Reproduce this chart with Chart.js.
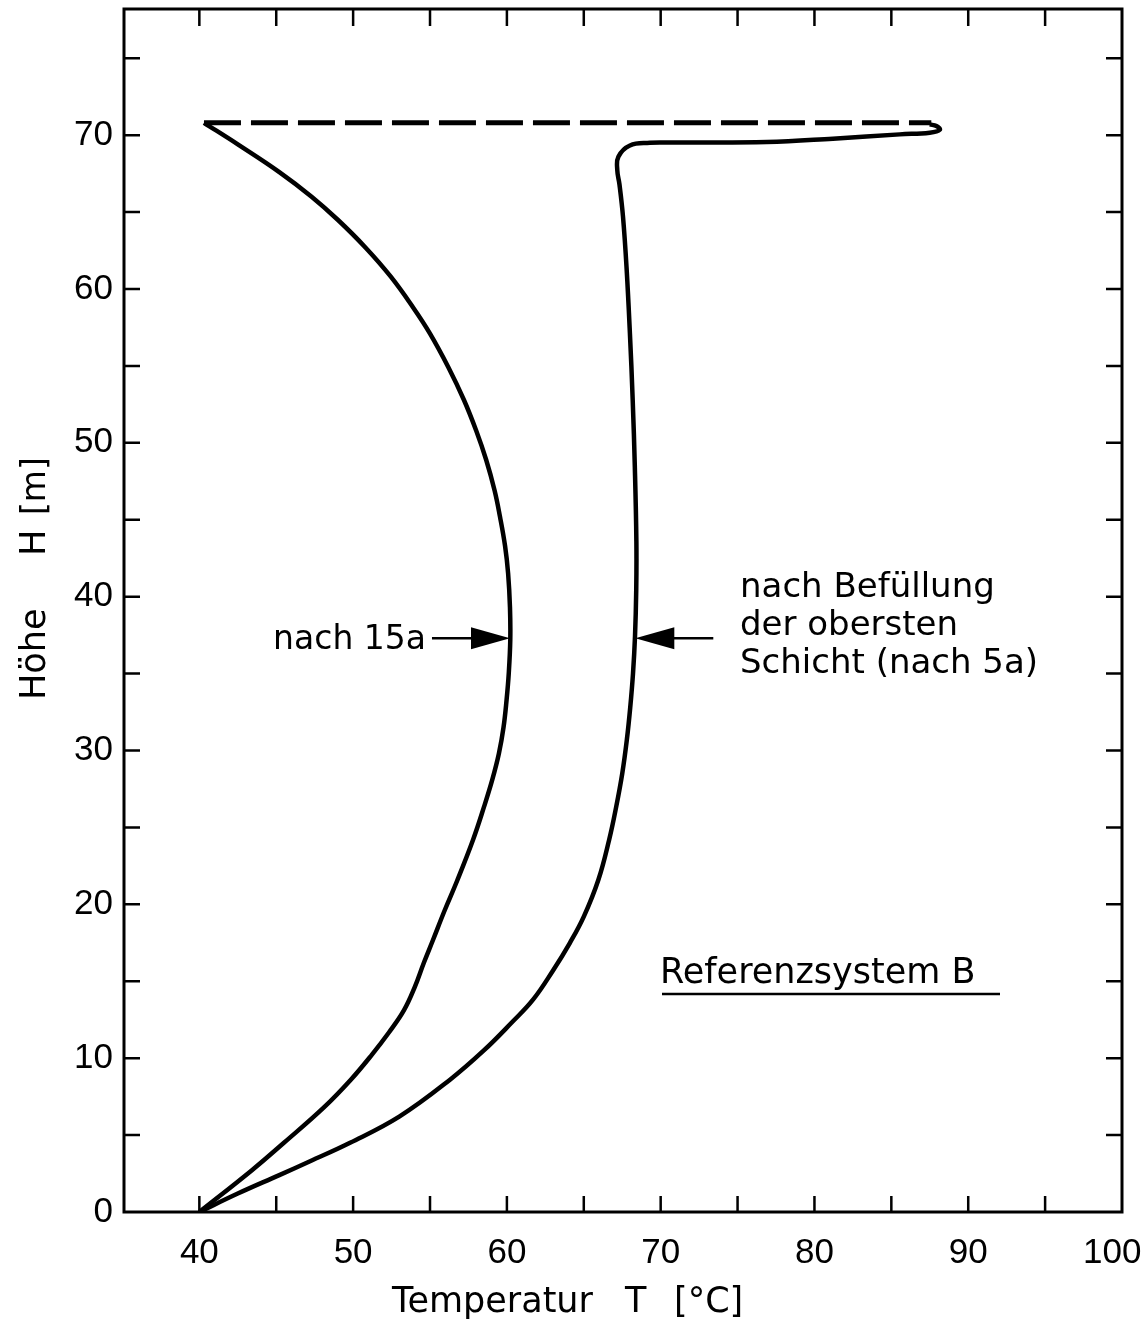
<!DOCTYPE html>
<html>
<head>
<meta charset="utf-8">
<script src="https://cdn.jsdelivr.net/npm/chart.js@4.4.1/dist/chart.umd.min.js"></script>
<style>
  html, body { margin: 0; padding: 0; background: #fff; }
  #wrap { width: 1148px; height: 1319px; position: relative; }
</style>
</head>
<body>
<div id="wrap"><canvas id="profileChart"></canvas></div>
<script>
// temperature profile after 15 years (T in °C, H in m)
const leftT = [40.0, 43.4, 45.5, 48.1, 49.85, 51.2, 52.35, 53.3, 54.0, 54.6, 55.2, 55.95, 56.75, 57.8, 58.5, 59.05, 59.48, 59.78, 59.98, 60.12, 60.22, 60.2, 60.08, 59.88, 59.55, 59.2, 58.65, 58.0, 57.2, 56.2, 55.0, 53.9, 52.45, 50.8, 49.0, 47.3, 45.2, 42.5, 40.3];
const leftH = [0.0, 2.7, 4.5, 6.8, 8.6, 10.2, 11.7, 13.1, 14.6, 16.2, 17.7, 19.6, 21.5, 24.2, 26.3, 28.1, 29.8, 31.5, 33.3, 35.0, 37.2, 39.3, 41.5, 43.3, 45.2, 46.9, 48.9, 50.8, 52.8, 54.9, 57.1, 58.8, 60.8, 62.7, 64.5, 66.0, 67.6, 69.4, 70.8];

// profile after filling of the top layer (after 5 years)
const rightT = [40.0, 42.5, 45.2, 47.2, 49.8, 53.0, 56.3, 58.5, 60.3, 61.7, 63.0, 64.1, 65.0, 65.95, 66.65, 67.1, 67.5, 67.8, 68.02, 68.2, 68.33, 68.41, 68.42, 68.32, 68.18, 68.0, 67.78, 67.55, 67.32, 67.18, 67.25, 68.0, 69.3, 70.4, 76.9, 81.2, 85.55, 87.5, 88.15, 87.93, 87.5];
const rightH = [0.0, 1.2, 2.4, 3.3, 4.5, 6.2, 8.6, 10.5, 12.3, 13.8, 15.7, 17.5, 19.2, 21.6, 24.2, 26.3, 28.5, 30.7, 32.8, 35.0, 37.4, 40.4, 43.6, 48.4, 52.8, 57.1, 61.4, 64.7, 66.8, 67.7, 68.6, 69.33, 69.5, 69.52, 69.55, 69.77, 70.05, 70.16, 70.35, 70.59, 70.7];

// dashed top boundary
const dashT = [40.3, 87.6];
const dashH = [70.8, 70.8];

const xLabelTicks = [40, 50, 60, 70, 80, 90, 100];
const yLabelTicks = [0, 10, 20, 30, 40, 50, 60, 70];
const xMinorTicks = [40, 45, 50, 55, 60, 65, 70, 75, 80, 85, 90, 95];
const yMinorTicks = [5, 10, 15, 20, 25, 30, 35, 40, 45, 50, 55, 60, 65, 70, 75];

const FONT = "'DejaVu Sans', sans-serif";
const NUM_FONT = "'Liberation Sans', sans-serif";

const toPoints = (xs, ys) => xs.map((x, i) => ({ x: x, y: ys[i] }));

// frame, inward ticks, axis titles and annotations
const decorPlugin = {
  id: "decor",
  afterDraw(chart) {
    const { ctx, chartArea: a, scales } = chart;
    const xs = scales.x, ys = scales.y;
    ctx.save();
    ctx.strokeStyle = "#000";
    ctx.fillStyle = "#000";
    ctx.lineWidth = 3;
    ctx.strokeRect(a.left, a.top, a.right - a.left, a.bottom - a.top);

    ctx.lineWidth = 2.5;
    xMinorTicks.forEach((v) => {
      const px = xs.getPixelForValue(v);
      ctx.beginPath();
      ctx.moveTo(px, a.bottom); ctx.lineTo(px, a.bottom - 16);
      ctx.moveTo(px, a.top); ctx.lineTo(px, a.top + 17);
      ctx.stroke();
    });
    yMinorTicks.forEach((v) => {
      const py = ys.getPixelForValue(v);
      ctx.beginPath();
      ctx.moveTo(a.left, py); ctx.lineTo(a.left + 16, py);
      ctx.moveTo(a.right, py); ctx.lineTo(a.right - 16, py);
      ctx.stroke();
    });

    // axis titles
    ctx.font = "35px " + FONT;
    ctx.textAlign = "left";
    ctx.textBaseline = "alphabetic";
    ctx.fillText("Temperatur", 392, 1312);
    ctx.fillText("T", 625, 1312);
    ctx.fillText("[°C]", 674, 1312);
    ctx.save();
    ctx.translate(45, 0);
    ctx.rotate(-Math.PI / 2);
    ctx.fillText("Höhe", -700, 0);
    ctx.fillText("H", -556, 0);
    ctx.font = "33px " + FONT;
    ctx.fillText("[m]", -515, 0);
    ctx.restore();

    // arrows
    const arrowY = ys.getPixelForValue(37.3);
    const drawArrow = (tipX, dir) => {
      ctx.lineWidth = 2.5;
      ctx.beginPath();
      ctx.moveTo(tipX - dir * 38, arrowY);
      ctx.lineTo(tipX - dir * 78, arrowY);
      ctx.stroke();
      ctx.beginPath();
      ctx.moveTo(tipX, arrowY);
      ctx.lineTo(tipX - dir * 39, arrowY - 11);
      ctx.lineTo(tipX - dir * 39, arrowY + 11);
      ctx.closePath();
      ctx.fill();
    };
    drawArrow(xs.getPixelForValue(60.2), 1);
    drawArrow(xs.getPixelForValue(68.35), -1);

    ctx.font = "33px " + FONT;
    ctx.textAlign = "right";
    ctx.fillText("nach 15a", 426, 649);
    ctx.textAlign = "left";
    ctx.font = "34px " + FONT;
    ctx.fillText("nach Befüllung", 740, 597);
    ctx.fillText("der obersten", 740, 635);
    ctx.fillText("Schicht (nach 5a)", 740, 673);

    ctx.font = "35px " + FONT;
    ctx.fillText("Referenzsystem B", 660, 983);
    ctx.lineWidth = 2.5;
    ctx.beginPath();
    ctx.moveTo(662, 994); ctx.lineTo(1000, 994);
    ctx.stroke();
    ctx.restore();
  },
};

new Chart(document.getElementById("profileChart").getContext("2d"), {
  type: "scatter",
  data: {
    datasets: [
      {
        label: "nach 15a",
        data: toPoints(leftT, leftH),
        showLine: true,
        borderColor: "#000",
        borderWidth: 4.5,
        pointRadius: 0,
        tension: 0.4,
      },
      {
        label: "nach Befüllung der obersten Schicht",
        data: toPoints(rightT, rightH),
        showLine: true,
        borderColor: "#000",
        borderWidth: 4.5,
        pointRadius: 0,
        tension: 0.4,
      },
      {
        label: "Oberkante",
        data: toPoints(dashT, dashH),
        showLine: true,
        borderColor: "#000",
        borderWidth: 5,
        borderDash: [37, 10],
        pointRadius: 0,
        tension: 0,
      },
    ],
  },
  options: {
    responsive: true,
    maintainAspectRatio: false,
    animation: false,
    layout: { padding: { left: 0, top: 9, right: 26, bottom: 0 } },
    plugins: {
      legend: { display: false },
      tooltip: { enabled: false },
      title: { display: false },
    },
    scales: {
      x: {
        type: "linear",
        min: 35.1,
        max: 100,
        grid: { display: false, drawTicks: false },
        border: { display: false },
        afterBuildTicks: (s) => { s.ticks = xLabelTicks.map((v) => ({ value: v })); },
        afterFit: (s) => { s.height = 107; s.paddingLeft = 0; s.paddingRight = 0; },
        ticks: {
          padding: 20,
          color: "#000",
          font: { family: NUM_FONT, size: 35 },
          maxRotation: 0,
          autoSkip: false,
          // last label sits left of its tick, as in the original
          callback: (v) => (v === 100 ? "100  " : String(v)),
        },
      },
      y: {
        type: "linear",
        min: 0,
        max: 78.2,
        grid: { display: false, drawTicks: false },
        border: { display: false },
        afterBuildTicks: (s) => { s.ticks = yLabelTicks.map((v) => ({ value: v })); },
        afterFit: (s) => { s.width = 124; s.paddingTop = 0; s.paddingBottom = 0; },
        ticks: {
          padding: 11,
          color: "#000",
          font: { family: NUM_FONT, size: 35 },
          autoSkip: false,
        },
      },
    },
  },
  plugins: [decorPlugin],
});
</script>
</body>
</html>
